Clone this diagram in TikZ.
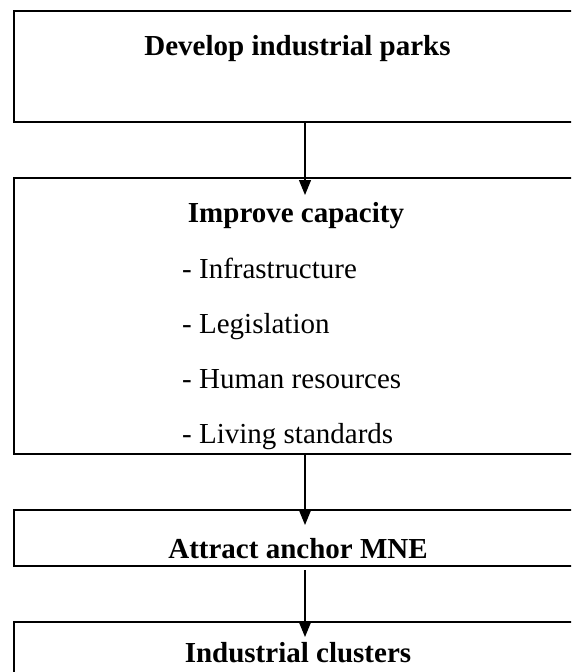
\documentclass[tikz,border=0pt]{standalone}
\usepackage{fontspec}
\setmainfont{Liberation Serif}
\usetikzlibrary{arrows.meta}
\begin{document}
\begin{tikzpicture}[x=1pt,y=-1pt,
  boxnode/.style={draw=black,line width=2pt,inner sep=0pt,outer sep=0pt,minimum width=582pt},
  titletext/.style={anchor=base,inner sep=0pt,font=\fontsize{29}{34}\selectfont\bfseries},
  itemtext/.style={anchor=base west,inner sep=0pt,font=\fontsize{29}{34}\selectfont},
  flowarrow/.style={line width=1.2pt,-{Triangle[width=12pt,length=15pt]}}]
\path[use as bounding box] (0,0) rectangle (571,672);
\clip (0,0) rectangle (571,672);
\node[boxnode,minimum height=111pt] (b1) at (305,66.5) {};
\node[boxnode,minimum height=276pt] (b2) at (305,316) {};
\node[boxnode,minimum height=56pt] (b3) at (305,538) {};
\node[boxnode,minimum height=78pt] (b4) at (305,661) {};
\node[titletext] (t1) at (297.5,55) {Develop industrial parks};
\node[titletext] (t2) at (296,222) {Improve capacity};
\node[itemtext] (i1) at (182,278) {- Infrastructure};
\node[itemtext] (i2) at (182,333) {- Legislation};
\node[itemtext] (i3) at (182,388) {- Human resources};
\node[itemtext] (i4) at (182,443) {- Living standards};
\node[titletext] (t3) at (298,558) {Attract anchor MNE};
\node[titletext] (t4) at (298,662) {Industrial clusters};
\draw[flowarrow] (b1.south) -- ([yshift=-17pt]b2.north);
\draw[flowarrow] (b2.south) -- ([yshift=-15pt]b3.north);
\draw[flowarrow] ([yshift=-4pt]b3.south) -- ([yshift=-15pt]b4.north);
\end{tikzpicture}
\end{document}
